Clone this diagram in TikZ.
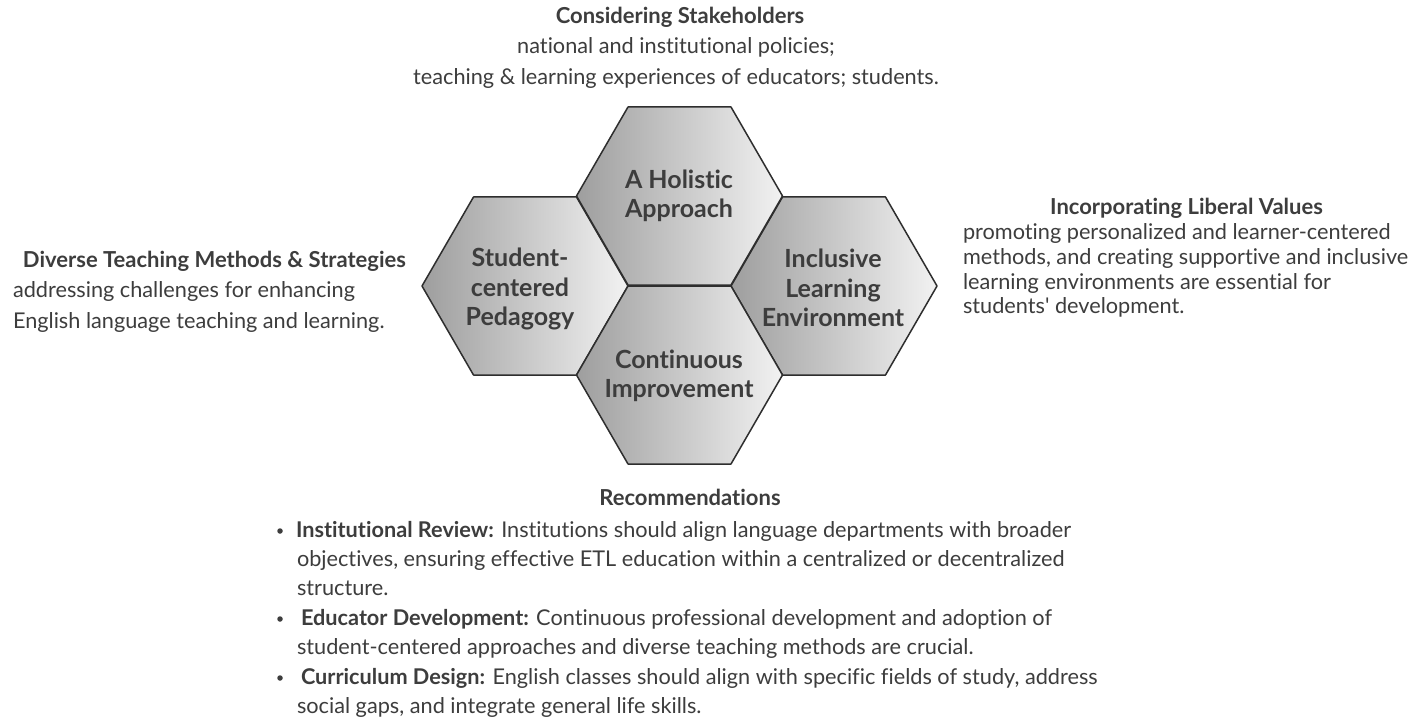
\documentclass[tikz,border=0pt]{standalone}
\usepackage{fontspec}
\setmainfont{Lato}[Ligatures={TeX,NoCommon}]
\definecolor{txt}{HTML}{3D3D3D}
\definecolor{hexline}{HTML}{2E2E2E}
\definecolor{hexdark}{HTML}{9E9E9E}
\definecolor{hexlight}{HTML}{F2F2F2}
\begin{document}
\begin{tikzpicture}[x=1pt,y=-1pt,
  every node/.style={text=txt, inner sep=0pt, outer sep=0pt},
  hexcell/.style={draw=hexline, line width=1.5pt, line join=round,
    left color=hexdark, right color=hexlight},
  hexlabel/.style={font=\fontsize{25}{29.5}\selectfont\bfseries, align=center},
  headline/.style={font=\fontsize{22}{26}\selectfont\bfseries, anchor=base},
  bodyline/.style={font=\fontsize{21.7}{26}\selectfont, anchor=base west},
  bodymid/.style={font=\fontsize{21.7}{26}\selectfont, anchor=base},
  bulletdot/.style={circle, fill=txt, minimum size=5.5pt}
]
\fill[white] (0,0) rectangle (1414,722);
\useasboundingbox (0,0) rectangle (1414,722);

% centres of the four honeycomb cells (circumradius 103)
\coordinate (cTop) at (679.5,196);
\coordinate (cLeft) at (525,286);
\coordinate (cRight) at (834,286);
\coordinate (cBottom) at (679.5,375);

\foreach \c in {cLeft,cRight,cTop,cBottom}{
  \draw[hexcell, shift={(\c)}] (-103,0) -- (-51.5,-89) -- (51.5,-89) -- (103,0)
    -- (51.5,89) -- (-51.5,89) -- cycle;
}

\node[hexlabel] (holistic) at (679,196) {A Holistic\\Approach};
\node[hexlabel] (pedagogy) at (520,289) {Student-\\centered\\Pedagogy};
\node[hexlabel] (inclusive) at (833,288) {Inclusive\\Learning\\Environment};
\node[hexlabel] (improve) at (679,376) {Continuous\\Improvement};

% stakeholders (top)
\node[headline] (stakeTitle) at (680,24) {Considering Stakeholders};
\node[bodymid] (stakeA) at (676,54) {national and institutional policies;};
\node[bodymid] (stakeB) at (676,85) {teaching \& learning experiences of educators; students.};

% teaching methods (left)
\node[headline, anchor=base west] (methTitle) at (23,267) {Diverse Teaching Methods \& Strategies};
\node[bodyline] (methA) at (13,298) {addressing challenges for enhancing};
\node[bodyline] (methB) at (13,328) {English language teaching and learning.};

% liberal values (right)
\node[headline] (libTitle) at (1186.5,215) {Incorporating Liberal Values};
\node[bodyline] (libA) at (963,240) {promoting personalized and learner-centered};
\node[bodyline] (libB) at (963,265) {methods, and creating supportive and inclusive};
\node[bodyline] (libC) at (963,289) {learning environments are essential for};
\node[bodyline] (libD) at (963,313) {students\textquotesingle{} development.};

% recommendations (bottom)
\node[headline] (recoTitle) at (690,505) {Recommendations};
\node[bodyline] (recoA) at (296,537) {\textbf{Institutional Review:} Institutions should align language departments with broader};
\node[bodyline] (recoB) at (297,566) {objectives, ensuring effective ETL education within a centralized or decentralized};
\node[bodyline] (recoC) at (297,595) {structure.};
\node[bodyline] (recoD) at (301,625) {\textbf{Educator Development:} Continuous professional development and adoption of};
\node[bodyline] (recoE) at (297,654) {student-centered approaches and diverse teaching methods are crucial.};
\node[bodyline] (recoF) at (301,684) {\textbf{Curriculum Design:} English classes should align with specific fields of study, address};
\node[bodyline] (recoG) at (297,713) {social gaps, and integrate general life skills.};
\node[bulletdot] (dotA) at (280,531) {};
\node[bulletdot] (dotD) at (280,619) {};
\node[bulletdot] (dotF) at (280,678) {};
\end{tikzpicture}
\end{document}
